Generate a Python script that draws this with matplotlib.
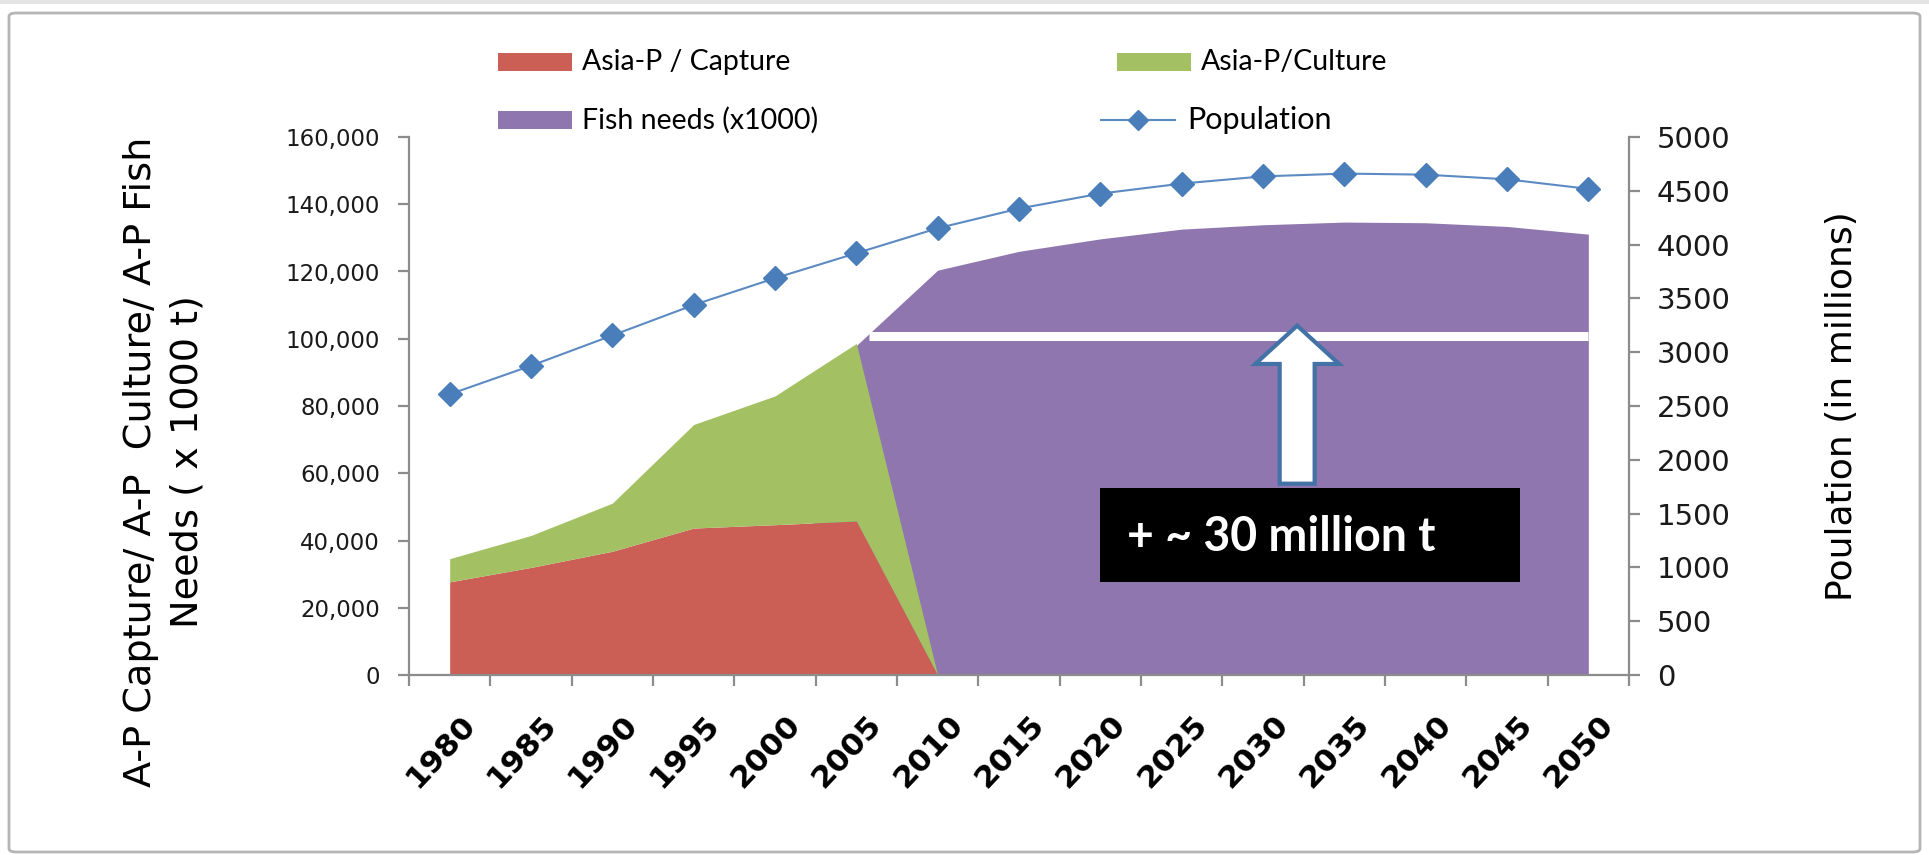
import matplotlib
matplotlib.use('Agg')
import matplotlib.pyplot as plt
import matplotlib.transforms as mtransforms
from matplotlib.patches import FancyBboxPatch, FancyArrow, Rectangle
from matplotlib.lines import Line2D
from matplotlib.ticker import FuncFormatter, FixedLocator
import numpy as np

# ---------------- data ----------------
years = ['1980', '1985', '1990', '1995', '2000', '2005', '2010', '2015',
         '2020', '2025', '2030', '2035', '2040', '2045', '2050']
capture = [27700, 32000, 36800, 43700, 44700, 45800, 0, 0, 0, 0, 0, 0, 0, 0, 0]
culture = [6900, 9500, 14300, 30800, 38300, 52800, 0, 0, 0, 0, 0, 0, 0, 0, 0]
fish_needs = [0, 0, 0, 0, 0, 98000, 120400, 126000, 129700, 132600,
              133900, 134700, 134500, 133400, 131100]
population = [2609, 2874, 3156, 3439, 3688, 3920, 4152, 4335, 4474, 4567,
              4634, 4660, 4650, 4607, 4518]
legend_labels = ['Asia-P / Capture', 'Asia-P/Culture', 'Fish needs (x1000)', 'Population']
annotation = '+ ~ 30 million t'
left_title = 'A-P Capture/ A-P  Culture/ A-P Fish\nNeeds ( x 1000 t)'
right_title = 'Poulation (in millions)'

# ---------------- style ----------------
RED = '#CB5F55'
GREEN = '#A3C163'
PURPLE = '#8F76AE'
BLUE = '#4A7EBB'
LINEBLUE = '#5C8AC2'
AXGRAY = '#8C8C8C'

W, H = 1929, 855
fig = plt.figure(figsize=(W / 100, H / 100), dpi=100)

# chart-area frame
fig.patches.append(Rectangle((0, 1 - 4 / H), 1, 4 / H, transform=fig.transFigure,
                             facecolor='#E4E4E4', edgecolor='none', zorder=-2))
fig.patches.append(FancyBboxPatch((9 / W, 3 / H), (1920 - 9) / W, (852 - 13) / H,
                                  boxstyle='round,pad=0,rounding_size=0.004',
                                  transform=fig.transFigure, facecolor='white',
                                  edgecolor='#B5B5B5', linewidth=2, zorder=-1))

ax_l, ax_r, ax_t, ax_b = 409, 1629, 137, 675
ax = fig.add_axes([ax_l / W, 1 - ax_b / H, (ax_r - ax_l) / W, (ax_b - ax_t) / H])
ax.patch.set_alpha(0)

x = np.arange(len(years))
cap = np.array(capture, dtype=float)
cul_top = cap + np.array(culture, dtype=float)

ax.fill_between(x, 0, fish_needs, color=PURPLE, lw=0, zorder=1)
ax.fill_between(x, 0, cap, color=RED, lw=0, zorder=2)
ax.fill_between(x, cap, cul_top, color=GREEN, lw=0, zorder=2)

ax.set_xlim(-0.5, len(years) - 0.5)
ax.set_ylim(0, 160000)

# white reference line at current supply level
ax.plot([5.15, 14.0], [100700, 100700], color='white', lw=6.5,
        solid_capstyle='butt', zorder=3)

# block arrow
ax.add_patch(FancyArrow(10.42, 56900, 0, 103900 - 56900, width=0.43,
                        head_width=1.03, head_length=11400,
                        length_includes_head=True, facecolor='white',
                        edgecolor='#4272A6', linewidth=3, zorder=4))

# black annotation box
ax.add_patch(Rectangle((7.99, 27700), 13.16 - 7.99, 55600 - 27700,
                       facecolor='black', edgecolor='none', zorder=5))
ax.text(8.33, 41000, annotation, color='white', fontsize=33.5, fontweight='bold',
        family=['Lato', 'DejaVu Sans'], ha='left', va='center', zorder=6)

# axes styling
for s in ['top', 'right']:
    ax.spines[s].set_visible(False)
for s in ['left', 'bottom']:
    ax.spines[s].set_color(AXGRAY)
    ax.spines[s].set_linewidth(1.6)

ax.yaxis.set_major_locator(FixedLocator(np.arange(0, 160001, 20000)))
ax.yaxis.set_major_formatter(FuncFormatter(lambda v, p: f'{int(v):,}'))
ax.tick_params(axis='y', direction='out', length=8, width=1.6, color=AXGRAY,
               labelsize=16.5, pad=13, labelcolor='#1A1A1A')

ax.set_xticks(x)
ax.set_xticklabels(years, rotation=47, ha='right', va='top',
                   rotation_mode='anchor', fontsize=22.5, fontweight='bold')
ax.set_xticks(np.arange(-0.5, len(years), 1.0), minor=True)
ax.tick_params(axis='x', which='major', length=0, pad=25)
ax.tick_params(axis='x', which='minor', direction='out', length=8, width=1.6,
               color=AXGRAY)
offset = mtransforms.ScaledTranslation(0.10, 0, fig.dpi_scale_trans)
for lab in ax.get_xticklabels():
    lab.set_transform(lab.get_transform() + offset)

# secondary axis - population
ax2 = ax.twinx()
ax2.set_ylim(0, 5000)
ax2.patch.set_alpha(0)
ax2.plot(x, population, color=LINEBLUE, lw=1.5, marker='D', markersize=12.5,
         markerfacecolor=BLUE, markeredgecolor=BLUE, zorder=5)
for s in ['top', 'left', 'bottom']:
    ax2.spines[s].set_visible(False)
ax2.spines['right'].set_color(AXGRAY)
ax2.spines['right'].set_linewidth(1.6)
ax2.yaxis.set_major_locator(FixedLocator(np.arange(0, 5001, 500)))
ax2.tick_params(axis='y', direction='out', length=8, width=1.6, color=AXGRAY,
                labelsize=21, pad=12, labelcolor='#1A1A1A')

# axis titles
fig.text(164 / W, 1 - 462 / H, left_title, rotation=90, ha='center', va='center',
         fontsize=27.5, linespacing=1.38, multialignment='center')
fig.text(1842 / W, 1 - 406 / H, right_title, rotation=90, ha='center', va='center',
         fontsize=26)

# legend (manual placement)
leg_font = dict(fontsize=20.5, family=['Lato', 'DejaVu Sans'], va='center', ha='left')
rows = [62, 120]
entries = [(498, rows[0], RED, legend_labels[0]),
           (1117, rows[0], GREEN, legend_labels[1]),
           (498, rows[1], PURPLE, legend_labels[2])]
for px, py, col, lab in entries:
    fig.patches.append(Rectangle((px / W, 1 - (py + 9) / H), 74 / W, 18 / H,
                                 transform=fig.transFigure, facecolor=col,
                                 edgecolor='none'))
    fig.text((px + 84) / W, 1 - py / H, lab, **leg_font)
fig.lines.append(Line2D([1101 / W, 1175 / W], [1 - rows[1] / H] * 2,
                        transform=fig.transFigure, color=LINEBLUE, lw=1.5))
fig.lines.append(Line2D([1138 / W], [1 - rows[1] / H], transform=fig.transFigure,
                        marker='D', markersize=10, color=BLUE, lw=0))
fig.text(1187 / W, 1 - rows[1] / H, legend_labels[3], fontsize=22,
         family=['Lato', 'DejaVu Sans'], va='center', ha='left')

fig.savefig('out.png', dpi=100)
